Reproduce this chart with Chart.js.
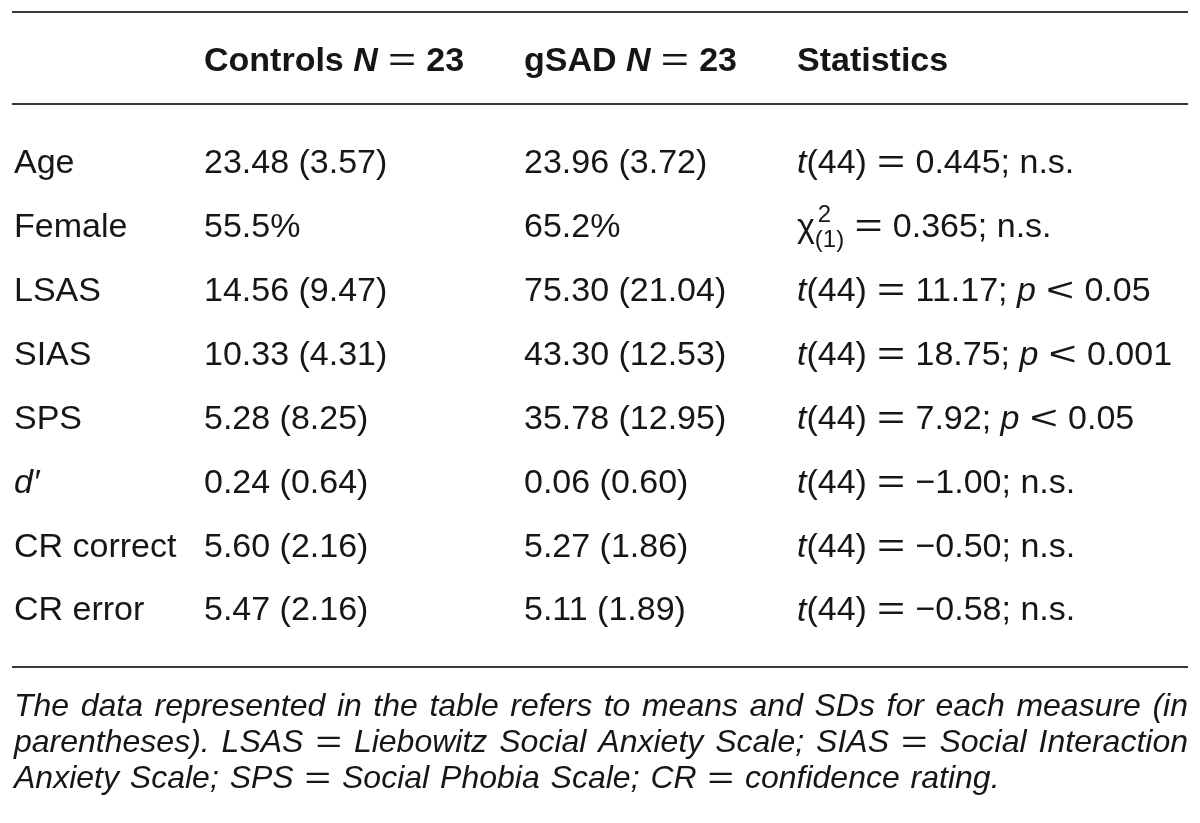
<!DOCTYPE html>
<html>
<head>
<meta charset="utf-8">
<script src="https://cdn.jsdelivr.net/npm/chart.js@4"></script>
<style>
  html, body { margin: 0; padding: 0; background: #fff; }
  #wrap { width: 1200px; height: 823px; position: relative; }
</style>
</head>
<body>
<div id="wrap"><canvas id="tableChart"></canvas></div>
<script>
// table contents (markup: *x* italic, ^{a}_{b} stacked super/subscript)
const measures = ['Age', 'Female', 'LSAS', 'SIAS', 'SPS', 'd′', 'CR correct', 'CR error'];
const measureLabels = ['Age', 'Female', 'LSAS', 'SIAS', 'SPS', '*d′*', 'CR correct', 'CR error'];
const controls = ['23.48 (3.57)', '55.5%', '14.56 (9.47)', '10.33 (4.31)', '5.28 (8.25)', '0.24 (0.64)', '5.60 (2.16)', '5.47 (2.16)'];
const gsad = ['23.96 (3.72)', '65.2%', '75.30 (21.04)', '43.30 (12.53)', '35.78 (12.95)', '0.06 (0.60)', '5.27 (1.86)', '5.11 (1.89)'];
const statistics = [
    '*t*(44) = 0.445; n.s.',
    'χ^{2}_{(1)} = 0.365; n.s.',
    '*t*(44) = 11.17; *p* < 0.05',
    '*t*(44) = 18.75; *p* < 0.001',
    '*t*(44) = 7.92; *p* < 0.05',
    '*t*(44) = −1.00; n.s.',
    '*t*(44) = −0.50; n.s.',
    '*t*(44) = −0.58; n.s.'
];
const headers = ['', 'Controls *N* = 23', 'gSAD *N* = 23', 'Statistics'];
const footnote = [
    'The data represented in the table refers to means and SDs for each measure (in',
    'parentheses). LSAS = Liebowitz Social Anxiety Scale; SIAS = Social Interaction',
    'Anxiety Scale; SPS = Social Phobia Scale; CR = confidence rating.'
];

// layout
const colX = [14, 204, 524, 797];
const FONT = '"Liberation Sans", Arial, Helvetica, sans-serif';
const SIZE = 34;
const NOTE_SIZE = 32;
const OP_STRETCH = 1.42;   // math-style wide operators
const INK = '#161616';

function fontOf(size, bold, italic) {
    return (italic ? 'italic ' : '') + (bold ? 'bold ' : '') + size + 'px ' + FONT;
}

// wide, light "=" / "<" like a math font; returns advance
function drawOp(ctx, op, x, y, size) {
    ctx.font = fontOf(size, false, false);
    const w = ctx.measureText(op).width;
    ctx.save();
    ctx.translate(x, y);
    ctx.scale(OP_STRETCH, 1);
    ctx.fillText(op, 0, 0);
    ctx.restore();
    return w * OP_STRETCH;
}

// draws a string with the small markup, left aligned, vertically centred on y
function drawRich(ctx, str, x, y, size, bold) {
    const parts = str.split(/(\*[^*]+\*|\^\{[^}]*\}_\{[^}]*\}| [=<] )/).filter(Boolean);
    const gap = size * 0.3;
    ctx.textBaseline = 'middle';
    ctx.textAlign = 'left';
    parts.forEach(p => {
        if (p[0] === '*' && p.length > 2) {
            ctx.font = fontOf(size, bold, true);
            const s = p.slice(1, -1);
            ctx.fillText(s, x, y);
            x += ctx.measureText(s).width;
        } else if (p.startsWith('^{')) {
            const m = p.match(/\^\{([^}]*)\}_\{([^}]*)\}/);
            const small = Math.round(size * 0.7);
            ctx.font = fontOf(small, bold, false);
            ctx.fillText(m[1], x + 3, y - size * 0.36);
            ctx.fillText(m[2], x, y + size * 0.36);
            x += Math.max(ctx.measureText(m[1]).width + 3, ctx.measureText(m[2]).width);
        } else if (/^ [=<] $/.test(p)) {
            x += gap;
            x += drawOp(ctx, p.trim(), x, y, size) + gap;
        } else {
            ctx.font = fontOf(size, bold, false);
            ctx.fillText(p, x, y);
            x += ctx.measureText(p).width;
        }
    });
}

function wordWidth(ctx, w) {
    if (w === '=') {
        ctx.font = fontOf(NOTE_SIZE, false, false);
        return ctx.measureText(w).width * OP_STRETCH;
    }
    ctx.font = fontOf(NOTE_SIZE, false, true);
    return ctx.measureText(w).width;
}

const tablePlugin = {
    id: 'tablePlugin',
    beforeDraw(chart) {
        const ctx = chart.ctx;
        ctx.save();
        ctx.fillStyle = '#fff';
        ctx.fillRect(0, 0, chart.width, chart.height);
        ctx.restore();
    },
    afterDatasetsDraw(chart) {
        const ctx = chart.ctx;
        const area = chart.chartArea;
        const xs = chart.scales.x;
        const left = xs.getPixelForValue(12);
        const right = xs.getPixelForValue(1188);
        ctx.save();

        // rules
        ctx.strokeStyle = '#3a3a3a';
        ctx.lineWidth = 2;
        [area.top - 120, area.top - 28, area.bottom + 24].forEach(yy => {
            ctx.beginPath();
            ctx.moveTo(left, yy);
            ctx.lineTo(right, yy);
            ctx.stroke();
        });

        ctx.fillStyle = INK;
        // header
        headers.forEach((h, c) => {
            if (h) drawRich(ctx, h, xs.getPixelForValue(colX[c]), area.top - 70, SIZE, true);
        });

        // cells at the positions of the points
        chart.data.datasets.forEach((ds, di) => {
            const meta = chart.getDatasetMeta(di);
            meta.data.forEach((el, i) => {
                drawRich(ctx, ds.cellText[i], el.x, el.y, SIZE, false);
            });
        });

        // footnote, all but the last line justified
        ctx.textBaseline = 'middle';
        ctx.textAlign = 'left';
        const x0 = xs.getPixelForValue(14);
        footnote.forEach((line, li) => {
            const yy = area.bottom + 64 + li * 36;
            const words = line.split(' ');
            const widths = words.map(w => wordWidth(ctx, w));
            const wsum = widths.reduce((a, b) => a + b, 0);
            ctx.font = fontOf(NOTE_SIZE, false, true);
            let sp = ctx.measureText(' ').width + 2;
            if (li < footnote.length - 1) sp = (right - x0 - wsum) / (words.length - 1);
            let x = x0;
            words.forEach((w, wi) => {
                if (w === '=') {
                    drawOp(ctx, w, x, yy, NOTE_SIZE);
                } else {
                    ctx.font = fontOf(NOTE_SIZE, false, true);
                    ctx.fillText(w, x, yy);
                }
                x += widths[wi] + sp;
            });
        });
        ctx.restore();
    }
};

const columns = [measureLabels, controls, gsad, statistics];
const datasets = columns.map((col, c) => ({
    label: headers[c] || 'Measure',
    data: measures.map(m => ({ x: colX[c], y: m })),
    cellText: col,
    pointRadius: 0,
    showLine: false
}));

new Chart(document.getElementById('tableChart'), {
    type: 'scatter',
    data: { datasets: datasets },
    options: {
        responsive: true,
        maintainAspectRatio: false,
        animation: false,
        layout: { padding: { top: 132, bottom: 180, left: 0, right: 0 } },
        plugins: { legend: { display: false }, tooltip: { enabled: false } },
        scales: {
            x: { type: 'linear', min: 0, max: 1200, display: false },
            y: { type: 'category', labels: measures, offset: true, display: false }
        }
    },
    plugins: [tablePlugin]
});
</script>
</body>
</html>
